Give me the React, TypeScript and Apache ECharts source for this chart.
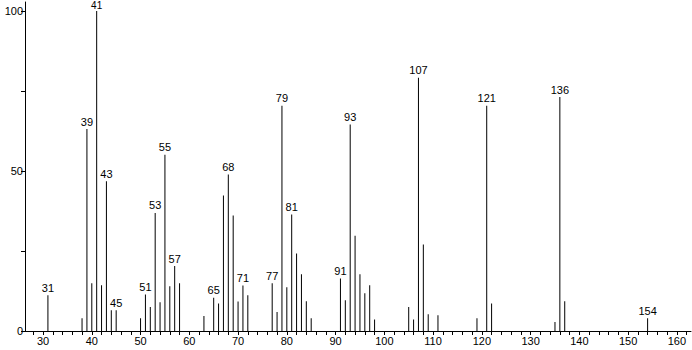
import React, { useEffect, useRef } from "react";
import * as echarts from "echarts";

const mz = [31, 38, 39, 40, 41, 42, 43, 44, 45, 50, 51, 52, 53, 54, 55, 56, 57, 58, 63, 65, 66, 67, 68, 69, 70, 71, 72, 77, 78, 79, 80, 81, 82, 83, 84, 85, 91, 92, 93, 94, 95, 96, 97, 98, 105, 106, 107, 108, 109, 111, 119, 121, 122, 135, 136, 137, 154];
const intensity = [11.2, 4.0, 63.1, 14.9, 100, 14.3, 46.8, 6.5, 6.5, 4.0, 11.4, 7.5, 36.9, 9.0, 55.1, 14.0, 20.3, 14.9, 4.7, 10.4, 8.6, 42.3, 48.9, 36.1, 9.2, 14.2, 11.2, 14.9, 5.9, 70.4, 13.7, 36.4, 24.2, 17.7, 9.3, 4.0, 16.4, 9.6, 64.5, 29.8, 17.7, 11.8, 14.3, 3.6, 7.5, 3.6, 79.1, 27.0, 5.2, 4.9, 4.0, 70.4, 8.6, 2.8, 73.1, 9.3, 4.0];
const labeledPeaks = [31, 39, 41, 43, 45, 51, 53, 55, 57, 65, 68, 71, 77, 79, 81, 91, 93, 107, 121, 136, 154];
const xLabelValues = [30, 40, 50, 60, 70, 80, 90, 100, 110, 120, 130, 140, 150, 160];
const xTickValues = [28, 30, 32, 34, 36, 38, 40, 42, 44, 46, 48, 50, 52, 54, 56, 58, 60, 62, 64, 66, 68, 70, 72, 74, 76, 78, 80, 82, 84, 86, 88, 90, 92, 94, 96, 98, 100, 102, 104, 106, 108, 110, 112, 114, 116, 118, 120, 122, 124, 126, 128, 130, 132, 134, 136, 138, 140, 142, 144, 146, 148, 150, 152, 154, 156, 158, 160, 162];
const yLabelValues = [0, 50, 100];
const yTickValues = [0, 25, 50, 75, 100];

const FONT = "'Liberation Sans', Arial, sans-serif";

export default function App() {
  const ref = useRef<HTMLDivElement>(null);
  useEffect(() => {
    if (!ref.current) return;
    const chart = echarts.init(ref.current, null, { renderer: "svg" });
    const data = mz.map((m, i) => ({
      value: [m, intensity[i]],
      label: intensity[i] >= 100
        ? { show: labeledPeaks.includes(m), distance: 0, fontSize: 10 }
        : { show: labeledPeaks.includes(m) },
    }));
    chart.setOption({
      animation: false,
      backgroundColor: "#ffffff",
      grid: { left: 25, right: 1, top: 2, bottom: 19, containLabel: false },
      xAxis: {
        type: "value",
        min: 26.3,
        max: 162.9,
        axisLine: { show: true, lineStyle: { color: "#000", width: 1 } },
        axisTick: { show: true, customValues: xTickValues, length: 4, lineStyle: { color: "#000" } },
        axisLabel: { customValues: xLabelValues, color: "#000", fontSize: 11, fontFamily: FONT, margin: 4 },
        splitLine: { show: false },
      },
      yAxis: {
        type: "value",
        min: 0,
        max: 102.8,
        axisLine: { show: true, lineStyle: { color: "#000", width: 1 } },
        axisTick: { show: true, customValues: yTickValues, length: 4, lineStyle: { color: "#000" } },
        axisLabel: { customValues: yLabelValues, color: "#000", fontSize: 11, fontFamily: FONT, margin: 2 },
        splitLine: { show: false },
      },
      series: [
        {
          type: "bar",
          data,
          barWidth: 1,
          itemStyle: { color: "#000" },
          label: {
            position: "top",
            distance: 2,
            color: "#000",
            fontSize: 11,
            fontFamily: FONT,
            formatter: (p: any) => String(p.value[0]),
          },
        },
      ],
    });
    return () => chart.dispose();
  }, []);
  return (
    <div
      ref={ref}
      style={{ position: "fixed", left: 0, top: 0, width: 692, height: 350, background: "#fff" }}
    />
  );
}
